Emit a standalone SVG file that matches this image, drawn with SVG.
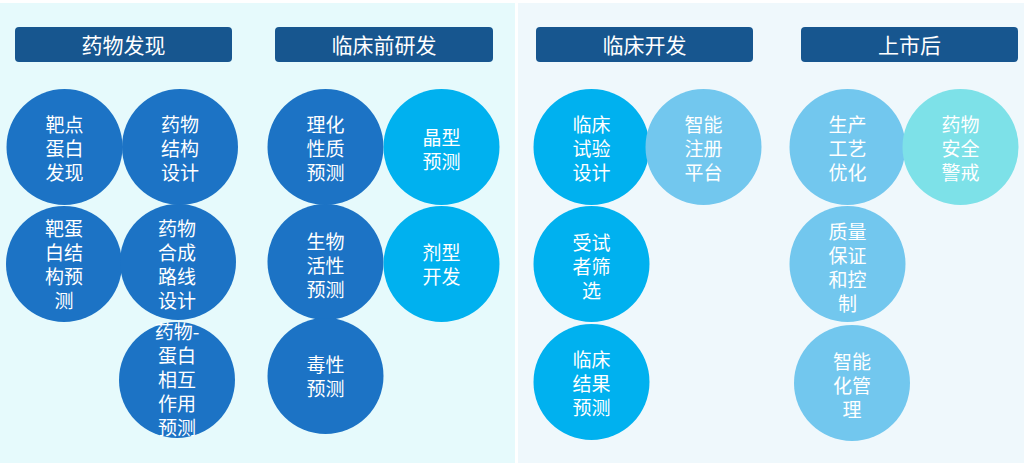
<svg xmlns="http://www.w3.org/2000/svg" width="1024" height="463" viewBox="0 0 1024 463">
<style>
.hdr{fill:#17568f}
.ht{fill:#ffffff;font-family:"Noto Sans CJK SC","Noto Sans",sans-serif;font-size:21px;text-anchor:middle}
.ct{fill:#ffffff;font-family:"Noto Sans CJK SC","Noto Sans",sans-serif;font-size:19px;text-anchor:middle}
.c1{fill:#1c73c5}
.c2{fill:#00b1ef}
.c3{fill:#72c7ee}
.c4{fill:#7de1e8}
</style>
<rect x="0" y="0" width="1024" height="463" fill="#ffffff"/>
<rect x="0" y="3" width="515" height="460" fill="#e6fafc"/>
<rect x="518" y="3" width="506" height="460" fill="#eff8fc"/>
<g id="headers">
<g id="h1"><rect class="hdr" x="15" y="27" width="217" height="35" rx="4"/><text class="ht" x="123.5" y="53">药物发现</text></g>
<g id="h2"><rect class="hdr" x="275" y="27" width="218" height="35" rx="4"/><text class="ht" x="384" y="53">临床前研发</text></g>
<g id="h3"><rect class="hdr" x="536" y="27" width="217" height="35" rx="4"/><text class="ht" x="644.5" y="53">临床开发</text></g>
<g id="h4"><rect class="hdr" x="801" y="27" width="217" height="35" rx="4"/><text class="ht" x="909.5" y="53">上市后</text></g>
</g>
<g id="connectors"></g>
<g id="n1"><circle class="c1" cx="64.5" cy="147" r="58"/><text class="ct" x="64.5" y="132"><tspan x="64.5">靶点</tspan><tspan x="64.5" dy="24">蛋白</tspan><tspan x="64.5" dy="24">发现</tspan></text></g>
<g id="n2"><circle class="c1" cx="180" cy="147" r="58"/><text class="ct" x="180" y="132"><tspan x="180">药物</tspan><tspan x="180" dy="24">结构</tspan><tspan x="180" dy="24">设计</tspan></text></g>
<g id="n3"><circle class="c1" cx="64" cy="264" r="58"/><text class="ct" x="64" y="236"><tspan x="64">靶蛋</tspan><tspan x="64" dy="24">白结</tspan><tspan x="64" dy="24">构预</tspan><tspan x="64" dy="24">测</tspan></text></g>
<g id="n4"><circle class="c1" cx="178" cy="262" r="58"/><text class="ct" x="177" y="236"><tspan x="177">药物</tspan><tspan x="177" dy="24">合成</tspan><tspan x="177" dy="24">路线</tspan><tspan x="177" dy="24">设计</tspan></text></g>
<g id="n5"><circle class="c1" cx="177" cy="380" r="58"/><text class="ct" x="177" y="339"><tspan x="177">药物-</tspan><tspan x="177" dy="24">蛋白</tspan><tspan x="177" dy="24">相互</tspan><tspan x="177" dy="24">作用</tspan><tspan x="177" dy="24">预测</tspan></text></g>
<g id="n6"><circle class="c1" cx="325.5" cy="147" r="58"/><text class="ct" x="325.5" y="132"><tspan x="325.5">理化</tspan><tspan x="325.5" dy="24">性质</tspan><tspan x="325.5" dy="24">预测</tspan></text></g>
<g id="n7"><circle class="c2" cx="441.5" cy="147" r="58"/><text class="ct" x="441.5" y="145"><tspan x="441.5">晶型</tspan><tspan x="441.5" dy="24">预测</tspan></text></g>
<g id="n8"><circle class="c1" cx="325.5" cy="262" r="58"/><text class="ct" x="325.5" y="249"><tspan x="325.5">生物</tspan><tspan x="325.5" dy="24">活性</tspan><tspan x="325.5" dy="24">预测</tspan></text></g>
<g id="n9"><circle class="c2" cx="441.5" cy="264" r="58"/><text class="ct" x="441.5" y="260"><tspan x="441.5">剂型</tspan><tspan x="441.5" dy="24">开发</tspan></text></g>
<g id="n10"><circle class="c1" cx="325.5" cy="376" r="58"/><text class="ct" x="325.5" y="372"><tspan x="325.5">毒性</tspan><tspan x="325.5" dy="24">预测</tspan></text></g>
<g id="n11"><circle class="c2" cx="591.5" cy="147" r="58"/><text class="ct" x="591.5" y="132"><tspan x="591.5">临床</tspan><tspan x="591.5" dy="24">试验</tspan><tspan x="591.5" dy="24">设计</tspan></text></g>
<g id="n12"><circle class="c3" cx="703.5" cy="147" r="58"/><text class="ct" x="703.5" y="132"><tspan x="703.5">智能</tspan><tspan x="703.5" dy="24">注册</tspan><tspan x="703.5" dy="24">平台</tspan></text></g>
<g id="n13"><circle class="c2" cx="591.5" cy="264" r="58"/><text class="ct" x="591.5" y="250"><tspan x="591.5">受试</tspan><tspan x="591.5" dy="24">者筛</tspan><tspan x="591.5" dy="24">选</tspan></text></g>
<g id="n14"><circle class="c2" cx="591.5" cy="382" r="58"/><text class="ct" x="591.5" y="367"><tspan x="591.5">临床</tspan><tspan x="591.5" dy="24">结果</tspan><tspan x="591.5" dy="24">预测</tspan></text></g>
<g id="n15"><circle class="c3" cx="847.5" cy="147" r="58"/><text class="ct" x="847.5" y="132"><tspan x="847.5">生产</tspan><tspan x="847.5" dy="24">工艺</tspan><tspan x="847.5" dy="24">优化</tspan></text></g>
<g id="n16"><circle class="c4" cx="960.5" cy="147" r="58"/><text class="ct" x="960.5" y="132"><tspan x="960.5">药物</tspan><tspan x="960.5" dy="24">安全</tspan><tspan x="960.5" dy="24">警戒</tspan></text></g>
<g id="n17"><circle class="c3" cx="847.5" cy="264" r="58"/><text class="ct" x="847.5" y="239"><tspan x="847.5">质量</tspan><tspan x="847.5" dy="24">保证</tspan><tspan x="847.5" dy="24">和控</tspan><tspan x="847.5" dy="24">制</tspan></text></g>
<g id="n18"><circle class="c3" cx="852" cy="383" r="58"/><text class="ct" x="852" y="369"><tspan x="852">智能</tspan><tspan x="852" dy="24">化管</tspan><tspan x="852" dy="24">理</tspan></text></g>
</svg>
